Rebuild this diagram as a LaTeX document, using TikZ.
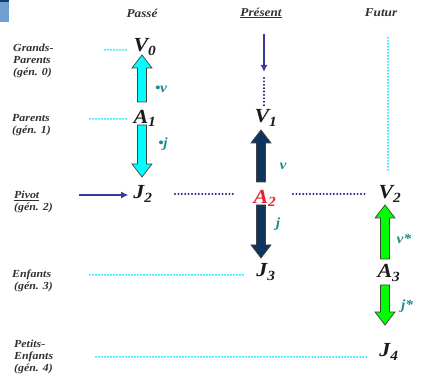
\documentclass[tikz,border=0pt]{standalone}
\usepackage{fontspec}
\setmainfont{Liberation Serif}[FakeStretch=1.1]
\usetikzlibrary{calc,arrows.meta}
\definecolor{navyfat}{HTML}{0E3460}
\definecolor{tealc}{HTML}{1E8C8C}
\definecolor{navythin}{HTML}{3A3A9A}
\definecolor{navydot}{HTML}{1A1A8A}
\definecolor{cyandot}{HTML}{00E8FF}
\definecolor{cyanfill}{HTML}{00FFFF}
\definecolor{greenfill}{HTML}{00FF00}
\definecolor{redA}{HTML}{E8202A}
\definecolor{boxblue}{HTML}{6E9ED2}
\definecolor{boxtop}{HTML}{1A3A6A}
\definecolor{txt}{HTML}{1A1A1A}
\newcommand\fatarrow[3]{%
  \coordinate (fh) at ($(#2)!13pt!(#1)$);
  \draw[fill=#3, draw=black!75, line width=0.7pt, line join=miter]
    ($(#1)!4.5pt!90:(#2)$) -- ($(fh)!4.5pt!90:(#2)$) -- ($(fh)!10pt!90:(#2)$) -- (#2)
    -- ($(fh)!10pt!-90:(#2)$) -- ($(fh)!4.5pt!-90:(#2)$) -- ($(#1)!4.5pt!-90:(#2)$) -- cycle;}
\tikzset{
  gen/.style={font=\fontsize{20}{20}\selectfont\bfseries\itshape, text=txt, inner sep=1pt},
  lbl/.style={font=\fontsize{10.8}{12.3}\selectfont\bfseries\itshape, text=txt!90, align=left, inner sep=0pt, anchor=west},
  hdr/.style={font=\fontsize{12}{12}\selectfont\bfseries\itshape, text=txt!90, inner sep=0pt},
  rel/.style={font=\fontsize{14}{14}\selectfont\bfseries\itshape, text=tealc, inner sep=0pt},
  cdots/.style={draw=cyandot, line width=2pt, dash pattern=on 0pt off 3pt, line cap=round},
  ndots/.style={draw=navydot, line width=2.2pt, dash pattern=on 0pt off 3.4pt, line cap=round},
  thinarrow/.style={draw=navythin, line width=1.6pt, -{Latex[length=7pt,width=7pt]}},
}
\begin{document}
\begin{tikzpicture}[x=1pt,y=-1pt]
\useasboundingbox (0,0) rectangle (421,379);
% corner box
\fill[boxblue] (0,0) rectangle (9,22);
\fill[boxtop] (0,0) rectangle (9,2);
% headers
\node[hdr] (hp) at (142,13) {Passé};
\node[hdr] (hpr) at (261,13) {\underline{Présent}};
\node[hdr] (hf) at (381,13) {Futur};
% left labels
\node[lbl] (l0) at (13,61) {Grands-\\Parents\\(gén. 0)};
\node[lbl] (l1) at (12,125) {Parents\\(gén. 1)};
\node[lbl] (l2) at (14,202) {\underline{Pivot}\\(gén. 2)};
\node[lbl] (l3) at (12,281) {Enfants\\\hspace*{2pt}(gén. 3)};
\node[lbl] (l4) at (14,357) {Petits-\\Enfants\\(gén. 4)};
% main nodes
\node[gen] (V0) at (145,47) {V\textsubscript{0}};
\node[gen] (A1) at (145,118) {A\textsubscript{1}};
\node[gen] (J2) at (143,194) {J\textsubscript{2}};
\node[gen] (V1) at (266,118) {V\textsubscript{1}};
\node[gen, text=redA] (A2) at (265,198) {A\textsubscript{2}};
\node[gen] (J3) at (266,272) {J\textsubscript{3}};
\node[gen] (V2) at (390,194) {V\textsubscript{2}};
\node[gen] (A3) at (389,273) {A\textsubscript{3}};
\node[gen] (J4) at (389,352) {J\textsubscript{4}};
% arrow end coordinates
\coordinate (c1b) at (142,102); \coordinate (c1t) at (142,55);
\coordinate (c2b) at (142,125); \coordinate (c2t) at (142,177);
\coordinate (n1b) at (261,182); \coordinate (n1t) at (261,130);
\coordinate (n2b) at (261,205); \coordinate (n2t) at (261,258);
\coordinate (g1b) at (385,259); \coordinate (g1t) at (385,205);
\coordinate (g2b) at (385,285); \coordinate (g2t) at (385,325);
\fatarrow{c1b}{c1t}{cyanfill}
\fatarrow{c2b}{c2t}{cyanfill}
\fatarrow{n1b}{n1t}{navyfat}
\fatarrow{n2b}{n2t}{navyfat}
\fatarrow{g1b}{g1t}{greenfill}
\fatarrow{g2b}{g2t}{greenfill}
% relation labels
\node[rel] (rv1) at (161,89) {\textbullet\kern-0.5pt v};
\node[rel] (rj1) at (163,144) {\textbullet\kern-0.5pt j};
\node[rel] (rv2) at (283,166) {v};
\node[rel] (rj2) at (278,224) {j};
\node[rel] (rv3) at (404,239) {v*};
\node[rel] (rj3) at (407,306) {j*};
% present arrow and dots
\coordinate (pa) at (264,34); \coordinate (pb) at (264,72);
\draw[thinarrow] (pa) -- (pb);
\coordinate (pd1) at (264,78);
\draw[ndots] (pd1) -- ($(V1.north)+(-2,-2)$);
% pivot arrow
\draw[thinarrow] ($(l2.east)+(26,-7)$) coordinate (pv1) -- ($(J2.west)+(-4,1)$);
% horizontal navy dots
\draw[ndots] (175,194) coordinate (d1) -- (235,194) coordinate (d2);
\draw[ndots] (293,194) coordinate (d3) -- (365,194) coordinate (d4);
% cyan dots
\draw[cdots] (105,50) -- ($(V0.west)+(-4,3)$);
\draw[cdots] (90,119) -- ($(A1.west)+(-4,1)$);
\draw[cdots] (90,275) -- ($(J3.west)+(-12,3)$);
\draw[cdots] (96,357) -- ($(J4.west)+(-12,5)$);
\draw[cdots] (388,38) coordinate (f1) -- (388,170) coordinate (f2);
\end{tikzpicture}
\end{document}
